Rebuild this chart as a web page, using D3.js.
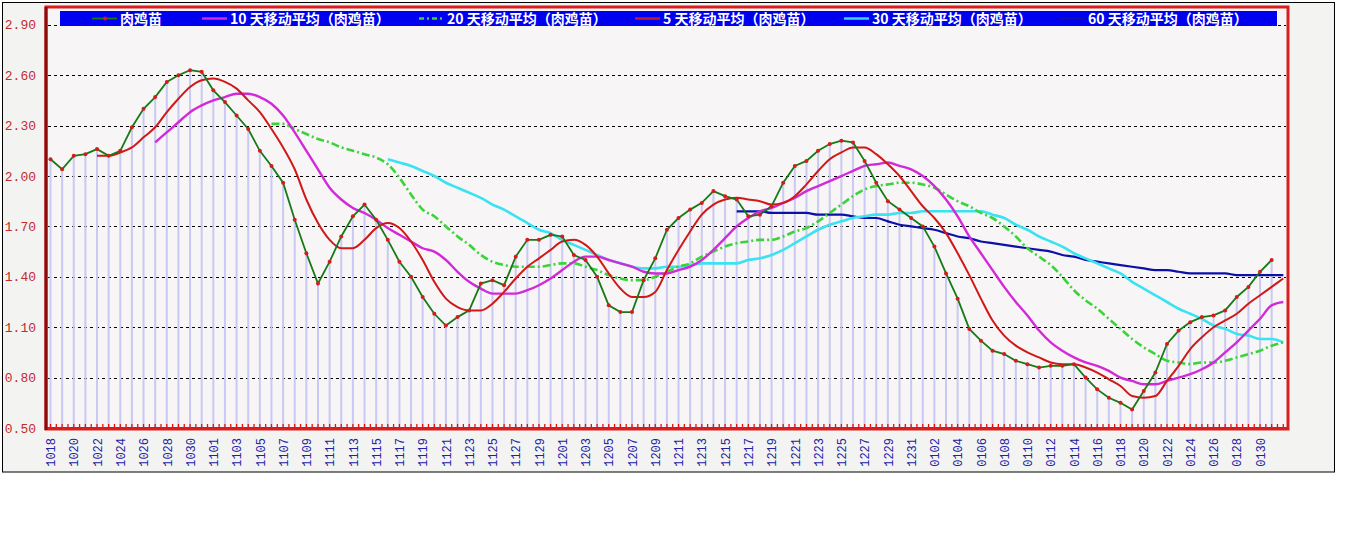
<!DOCTYPE html>
<html><head><meta charset="utf-8">
<script src="https://cdn.jsdelivr.net/npm/d3@7"></script>
<style>html,body{margin:0;padding:0;background:#fff;}svg{display:block;}</style>
</head><body>
<svg id="chart" width="1345" height="541"></svg>
<script>
const dates = [
"1018","1019","1020","1021","1022","1023","1024","1025","1026","1027","1028","1029","1030","1031",
"1101","1102","1103","1104","1105","1106","1107","1108","1109","1110","1111","1112","1113","1114","1115","1116",
"1117","1118","1119","1120","1121","1122","1123","1124","1125","1126","1127","1128","1129","1130",
"1201","1202","1203","1204","1205","1206","1207","1208","1209","1210","1211","1212","1213","1214","1215","1216",
"1217","1218","1219","1220","1221","1222","1223","1224","1225","1226","1227","1228","1229","1230","1231",
"0101","0102","0103","0104","0105","0106","0107","0108","0109","0110","0111","0112","0113","0114","0115","0116",
"0117","0118","0119","0120","0121","0122","0123","0124","0125","0126","0127","0128","0129","0130","0131"];

const price = [2.10,2.04,2.12,2.13,2.16,2.12,2.15,2.29,2.40,2.47,
 2.56,2.60,2.63,2.62,2.51,2.44,2.36,2.28,2.15,2.06,
 1.96,1.74,1.54,1.36,1.49,1.64,1.76,1.83,1.74,1.62,
 1.49,1.40,1.28,1.18,1.11,1.16,1.20,1.36,1.38,1.35,
 1.52,1.62,1.62,1.65,1.64,1.53,1.50,1.40,1.23,1.19,
 1.19,1.38,1.51,1.68,1.75,1.80,1.84,1.91,1.88,1.86,
 1.76,1.77,1.82,1.96,2.06,2.09,2.15,2.19,2.21,2.20,
 2.09,1.96,1.85,1.80,1.75,1.70,1.58,1.42,1.27,1.09,
 1.02,0.96,0.94,0.90,0.88,0.86,0.87,0.87,0.88,0.80,
 0.73,0.68,0.65,0.61,0.72,0.83,1.00,1.08,1.13,1.16,
 1.17,1.20,1.28,1.34,1.43,1.50];

// moving averages: first value sits at index maXStart of the date axis
const ma5Start = 4;
const ma5 = [2.12,2.12,2.14,2.17,2.23,2.29,2.38,2.46,2.53,2.57,
 2.58,2.56,2.52,2.45,2.38,2.28,2.17,2.04,1.86,1.72,
 1.62,1.57,1.57,1.62,1.69,1.72,1.69,1.61,1.50,1.37,
 1.27,1.22,1.20,1.20,1.24,1.31,1.39,1.46,1.51,1.56,
 1.61,1.62,1.59,1.52,1.42,1.33,1.28,1.28,1.31,1.44,
 1.56,1.67,1.77,1.83,1.86,1.87,1.86,1.85,1.83,1.84,
 1.88,1.95,2.03,2.10,2.14,2.17,2.17,2.13,2.07,2.00,
 1.91,1.82,1.75,1.66,1.54,1.41,1.27,1.14,1.05,0.99,
 0.95,0.92,0.89,0.88,0.88,0.86,0.83,0.79,0.75,0.69,
 0.68,0.69,0.78,0.87,0.97,1.04,1.10,1.14,1.18,1.24,
 1.29,1.34,1.39];

const ma10Start = 9;
const ma10 = [2.20,2.26,2.32,2.38,2.42,2.45,2.47,2.49,2.49,2.47,
 2.43,2.36,2.26,2.15,2.04,1.93,1.86,1.81,1.78,1.74,
 1.69,1.65,1.61,1.57,1.55,1.50,1.43,1.37,1.33,1.30,
 1.30,1.30,1.32,1.35,1.39,1.44,1.49,1.52,1.52,1.50,
 1.48,1.46,1.43,1.42,1.42,1.44,1.46,1.50,1.56,1.63,
 1.70,1.75,1.79,1.81,1.84,1.87,1.91,1.94,1.97,2.00,
 2.03,2.06,2.07,2.08,2.06,2.04,2.00,1.94,1.86,1.76,
 1.64,1.54,1.44,1.34,1.25,1.17,1.08,1.01,0.96,0.92,
 0.89,0.87,0.84,0.80,0.78,0.76,0.76,0.78,0.80,0.82,
 0.85,0.89,0.95,1.01,1.08,1.15,1.23,1.25];

const ma20Start = 19;
const ma20 = [2.31,2.31,2.28,2.25,2.22,2.20,2.17,2.15,2.13,2.11,
 2.07,1.99,1.89,1.80,1.76,1.70,1.64,1.59,1.53,1.49,
 1.47,1.46,1.46,1.46,1.47,1.48,1.48,1.46,1.44,1.41,
 1.39,1.38,1.38,1.40,1.43,1.46,1.48,1.52,1.55,1.58,
 1.60,1.61,1.62,1.62,1.64,1.67,1.69,1.73,1.78,1.83,
 1.88,1.92,1.94,1.95,1.96,1.96,1.95,1.93,1.89,1.85,
 1.82,1.78,1.75,1.70,1.64,1.57,1.52,1.47,1.40,1.32,
 1.26,1.21,1.15,1.09,1.03,0.98,0.94,0.90,0.89,0.88,
 0.89,0.89,0.90,0.92,0.94,0.96,0.99,1.01];

const ma30Start = 29;
const ma30 = [2.10,2.08,2.06,2.03,2.00,1.96,1.93,1.90,1.87,1.83,
 1.80,1.76,1.72,1.68,1.66,1.62,1.59,1.56,1.53,1.50,
 1.48,1.46,1.45,1.45,1.46,1.46,1.47,1.48,1.48,1.48,
 1.48,1.50,1.51,1.53,1.56,1.60,1.64,1.68,1.71,1.73,
 1.75,1.76,1.77,1.77,1.78,1.78,1.79,1.79,1.79,1.79,
 1.79,1.79,1.77,1.75,1.71,1.68,1.64,1.61,1.58,1.54,
 1.51,1.48,1.45,1.42,1.37,1.33,1.29,1.25,1.21,1.18,
 1.15,1.11,1.09,1.06,1.05,1.03,1.03,1.01];

const ma60Start = 59;
const ma60 = [1.79,1.79,1.79,1.78,1.78,1.78,1.78,1.77,1.77,1.77,
 1.76,1.75,1.75,1.73,1.71,1.70,1.69,1.68,1.66,1.64,
 1.63,1.61,1.60,1.59,1.58,1.57,1.56,1.55,1.53,1.52,
 1.50,1.49,1.48,1.47,1.46,1.45,1.44,1.44,1.43,1.42,
 1.42,1.42,1.42,1.41,1.41,1.41,1.41,1.41];

const yTicks = [0.50,0.80,1.10,1.40,1.70,2.00,2.30,2.60,2.90];
const legendNames = ["肉鸡苗","10 天移动平均（肉鸡苗）","20 天移动平均（肉鸡苗）","5 天移动平均（肉鸡苗）","30 天移动平均（肉鸡苗）","60 天移动平均（肉鸡苗）"];

const svg = d3.select("#chart");
const P = {l:46, t:7, r:1288, b:429};
const x = d3.scaleLinear().domain([0, dates.length]).range([50.5, 1283.3]);
const y = d3.scaleLinear().domain([0.5, 2.9]).range([428, 24.8]);

// outer frame
svg.append("rect").attr("x",2.5).attr("y",2.5).attr("width",1332).attr("height",469.5)
  .attr("fill","#f3f4f2").attr("stroke","#000").attr("stroke-width",1);
// plot background
svg.append("rect").attr("x",P.l).attr("y",P.t).attr("width",P.r-P.l).attr("height",P.b-P.t)
  .attr("fill","#f7f5f5");

// grid lines
svg.append("g").selectAll("line").data(yTicks.filter(v=>v>0.5)).join("line")
  .attr("x1",P.l+2).attr("x2",P.r-2).attr("y1",d=>Math.round(y(d))+0.5).attr("y2",d=>Math.round(y(d))+0.5)
  .attr("stroke","#000").attr("stroke-width",1).attr("stroke-dasharray","3,3");

// thin bars
svg.append("g").selectAll("line").data(price).join("line")
  .attr("x1",(d,i)=>x(i)).attr("x2",(d,i)=>x(i)).attr("y1",d=>y(d)).attr("y2",y(0.5))
  .attr("stroke","#c9c9f3").attr("stroke-width",2);

// y axis
const yAxis = d3.axisLeft(y).tickValues(yTicks).tickFormat(d3.format(".2f")).tickSize(0).tickPadding(10);
const gy = svg.append("g").attr("transform",`translate(${P.l},0)`).call(yAxis);
gy.select(".domain").remove();
gy.selectAll("text").attr("font-family","'Liberation Mono', monospace").attr("font-size",13).attr("fill","#c42a2a");

// x axis
const labelIdx = dates.map((d,i)=>i).filter(i=>i%2===0);
const xAxis = d3.axisBottom(x).tickValues(labelIdx).tickFormat(i=>dates[i]).tickSize(0).tickPadding(0);
const gx = svg.append("g").attr("transform",`translate(0,${P.b})`).call(xAxis);
gx.select(".domain").remove();
gx.selectAll("text").attr("font-family","'Liberation Mono', monospace").attr("font-size",12).attr("fill","#2222a4")
  .attr("text-anchor","end").attr("dy","0.35em").attr("transform","translate(0,9) rotate(-90)").attr("x",0).attr("y",0);

// bottom tick marks
const minor = d3.range(0, dates.length*2+1).map(k=>k/2);
svg.append("g").selectAll("line").data(minor).join("line")
  .attr("x1",d=>x(d)).attr("x2",d=>x(d)).attr("y1",y(0.5)-4).attr("y2",y(0.5))
  .attr("stroke","#e01010").attr("stroke-width",1.3);

// series lines
function maLine(arr, start){
  return arr.map((v,i)=>[start+i, v]);
}
const lineGen = d3.line().x(d=>x(d[0])).y(d=>y(d[1])).curve(d3.curveMonotoneX);
const series = [
  {data:maLine(ma60,ma60Start), color:"#0c10a8", w:2.2, dash:null},
  {data:maLine(ma30,ma30Start), color:"#3ae2f2", w:2.6, dash:null},
  {data:maLine(ma20,ma20Start), color:"#3ad43a", w:2.6, dash:"8,3,2,3"},
  {data:maLine(ma10,ma10Start), color:"#d22ad8", w:2.4, dash:null},
  {data:maLine(ma5,ma5Start), color:"#d01818", w:2.0, dash:null}
];
series.forEach(s=>{
  svg.append("path").datum(s.data).attr("d",lineGen).attr("fill","none")
    .attr("stroke",s.color).attr("stroke-width",s.w).attr("stroke-dasharray",s.dash)
    .attr("stroke-linejoin","round");
});
const priceLine = d3.line().x((d,i)=>x(i)).y(d=>y(d));
svg.append("path").datum(price).attr("d",priceLine).attr("fill","none")
  .attr("stroke","#167a16").attr("stroke-width",1.8);
svg.append("g").selectAll("circle").data(price).join("circle")
  .attr("cx",(d,i)=>x(i)).attr("cy",d=>y(d)).attr("r",2).attr("fill","#d41c1c");

// axis lines & border
svg.append("line").attr("x1",P.l).attr("x2",P.r).attr("y1",428.5).attr("y2",428.5).attr("stroke","#e01414").attr("stroke-width",3);
svg.append("rect").attr("x",P.l).attr("y",P.t).attr("width",P.r-P.l).attr("height",P.b-P.t)
  .attr("fill","none").attr("stroke","#d81e1e").attr("stroke-width",3);
svg.append("line").attr("x1",P.l).attr("x2",P.l).attr("y1",P.t).attr("y2",P.b+1).attr("stroke","#8c0a0a").attr("stroke-width",3);

// legend
const lg = svg.append("g");
lg.append("rect").attr("x",60).attr("y",11).attr("width",1217).attr("height",15).attr("fill","#0000f0");
const legX = [120,230,447,663,872,1088];
const legColors = ["#167a16","#d22ad8","#3ad43a","#c01830","#3ad0f2","#0c10a8"];
const legDash = [null,null,"5,3,2,3",null,null,null];
legendNames.forEach((name,k)=>{
  lg.append("line").attr("x1",legX[k]-28).attr("x2",legX[k]-3).attr("y1",18.5).attr("y2",18.5)
    .attr("stroke",legColors[k]).attr("stroke-width",k===0?1.8:2.5).attr("stroke-dasharray",legDash[k]);
  if(k===0) lg.append("circle").attr("cx",legX[k]-15).attr("cy",18.5).attr("r",2).attr("fill","#d41c1c");
  lg.append("text").attr("x",legX[k]).attr("y",24).text(name)
    .attr("font-family","'Noto Sans CJK SC', sans-serif").attr("font-weight","bold").attr("font-size",14).attr("fill","#fff");
});
</script>
</body></html>
